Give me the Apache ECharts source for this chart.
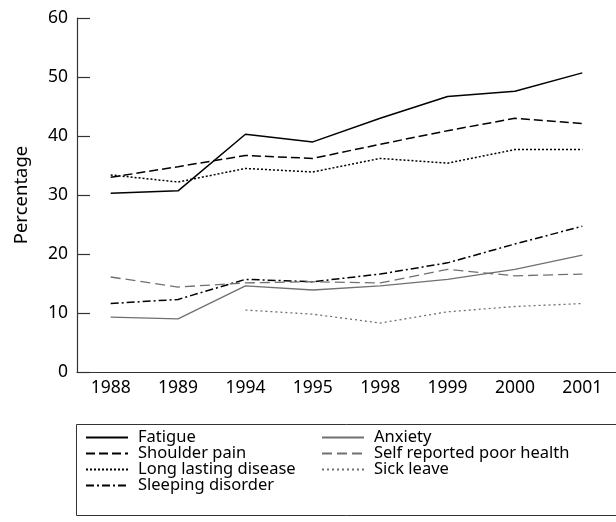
<!DOCTYPE html>
<html>
<head>
<meta charset="utf-8">
<script src="https://cdn.jsdelivr.net/npm/echarts@6/dist/echarts.min.js"></script>
<style>
  html, body { margin: 0; padding: 0; background: #fff; }
  #chart { width: 616px; height: 522px; }
</style>
</head>
<body>
<div id="chart"></div>
<script>
// years on the x axis
var years = ['1988', '1989', '1994', '1995', '1998', '1999', '2000', '2001'];

// percentages
var fatigue = [30.3, 30.7, 40.3, 39.0, 43.0, 46.7, 47.6, 50.7];
var shoulderPain = [33.0, 34.8, 36.7, 36.2, 38.6, 40.9, 43.0, 42.1];
var longLasting = [33.4, 32.2, 34.5, 33.9, 36.2, 35.4, 37.7, 37.7];
var sleeping = [11.6, 12.3, 15.7, 15.3, 16.6, 18.5, 21.7, 24.7];
var anxiety = [9.3, 9.0, 14.6, 13.9, 14.6, 15.7, 17.4, 19.8];
var poorHealth = [16.1, 14.4, 15.1, 15.3, 15.1, 17.4, 16.3, 16.6];
var sickLeave = [null, null, 10.5, 9.8, 8.3, 10.2, 11.1, 11.6];

var yTicks = [0, 10, 20, 30, 40, 50, 60];

var chart = echarts.init(document.getElementById('chart'));
var font = 'Noto Sans, sans-serif';

function line(name, data, color, width, dash) {
  return {
    name: name,
    type: 'line',
    data: data,
    symbol: 'none',
    silent: true,
    connectNulls: false,
    lineStyle: { color: color, width: width, type: dash },
    itemStyle: { color: color }
  };
}

var legendCommon = {
  orient: 'vertical',
  itemWidth: 42,
  itemHeight: 12,
  itemGap: -1,
  padding: 0,
  itemStyle: { opacity: 0 },
  textStyle: { fontFamily: font, fontSize: 16.5, lineHeight: 16, color: '#000', padding: [0, 0, 0, 5] },
  selectedMode: false
};

var option = {
  animation: false,
  backgroundColor: '#fff',
  grid: { left: 77, top: 18, bottom: 150, width: 543 },
  xAxis: {
    type: 'category',
    data: years,
    boundaryGap: true,
    axisLine: { lineStyle: { color: '#333', width: 1.2 } },
    axisTick: { inside: true, length: 14, lineStyle: { color: '#333', width: 1.2 } },
    axisLabel: { fontFamily: font, fontSize: 17.5, color: '#000', margin: 7 }
  },
  yAxis: {
    type: 'value',
    min: yTicks[0],
    max: yTicks[yTicks.length - 1],
    interval: 10,
    name: 'Percentage',
    nameLocation: 'middle',
    nameGap: 46,
    nameTextStyle: { fontFamily: font, fontSize: 18.5, color: '#000' },
    splitLine: { show: false },
    axisLine: { show: true, lineStyle: { color: '#333', width: 1.2 } },
    axisTick: { show: true, inside: true, length: 13, lineStyle: { color: '#333', width: 1.2 } },
    axisLabel: { fontFamily: font, fontSize: 17.5, color: '#000', margin: 9 }
  },
  legend: [
    Object.assign({}, legendCommon, {
      left: 85, top: 429,
      data: ['Fatigue', 'Shoulder pain', 'Long lasting disease', 'Sleeping disorder']
    }),
    Object.assign({}, legendCommon, {
      left: 321, top: 429,
      data: ['Anxiety', 'Self reported poor health', 'Sick leave']
    })
  ],
  graphic: [{
    type: 'rect',
    shape: { x: 76.5, y: 424.5, width: 560, height: 91 },
    style: { fill: 'none', stroke: '#333', lineWidth: 1 },
    silent: true
  }],
  series: [
    line('Fatigue', fatigue, '#000', 1.5, 'solid'),
    line('Shoulder pain', shoulderPain, '#000', 1.5, [9, 4]),
    line('Long lasting disease', longLasting, '#000', 1.5, [2, 2]),
    line('Sleeping disorder', sleeping, '#000', 1.5, [8, 3, 2, 3]),
    line('Anxiety', anxiety, '#707070', 1.3, 'solid'),
    line('Self reported poor health', poorHealth, '#707070', 1.3, [10, 5]),
    line('Sick leave', sickLeave, '#707070', 1.3, [2, 3])
  ]
};

chart.setOption(option);
window.addEventListener('resize', function () { chart.resize(); });
</script>
</body>
</html>
